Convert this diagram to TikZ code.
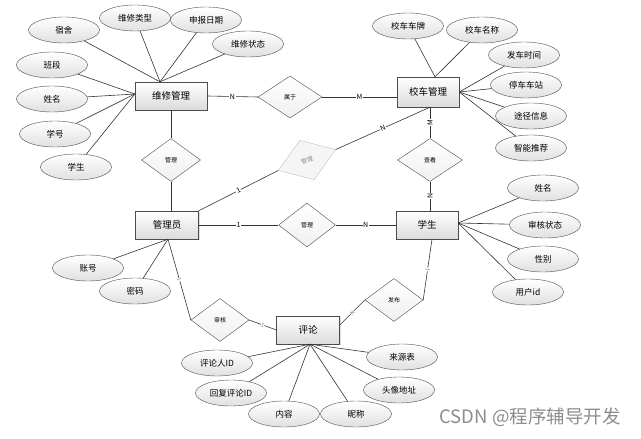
\documentclass[tikz,border=0pt]{standalone}
\usepackage{fontspec}
\setmainfont{Noto Sans CJK SC}
\usetikzlibrary{shapes.geometric,shadows}
\begin{document}
\begin{tikzpicture}[x=1pt,y=-1pt,
  ent/.style={rectangle, draw=black!70, top color=white, bottom color=black!14,
    minimum width=63pt, minimum height=29pt, inner sep=0pt,
    font=\fontsize{9.5}{11}\selectfont,
    drop shadow={opacity=0.25, shadow xshift=1pt, shadow yshift=-1pt}},
  attr/.style={ellipse, draw=black!70, top color=white, bottom color=black!12,
    minimum width=71pt, minimum height=26pt, inner sep=0pt,
    font=\fontsize{8.5}{10}\selectfont},
  rel/.style={diamond, draw=black!70, top color=white, bottom color=black!6,
    minimum width=59pt, minimum height=43pt, inner sep=0pt,
    font=\fontsize{6}{7}\selectfont},
  ghost/.style={diamond, draw=black!25, fill=black!4, text=black!45,
    minimum width=61pt, minimum height=42pt, inner sep=0pt,
    font=\fontsize{6}{7}\selectfont},
  conn/.style={draw=black!80, line width=0.6pt},
  lbl/.style={fill=white, inner sep=0.6pt, font=\fontsize{7}{8}\selectfont},
  tiny/.style={fill=white, inner sep=0.3pt, text=black!60, font=\fontsize{5}{6}\selectfont}
]
\useasboundingbox (0,0) rectangle (641,439);

% entities
\node[ent, minimum width=72pt, minimum height=28pt] (wx) at (171,96) {维修管理};
\node[ent, minimum width=62pt, minimum height=30pt] (xc) at (428,92) {校车管理};
\node[ent, minimum height=28pt] (gly) at (167,225) {管理员};
\node[ent, minimum width=62pt, minimum height=28pt] (xs) at (427,225) {学生};
\node[ent, minimum height=28pt] (pl) at (308,330) {评论};

% relationships
\node[rel, minimum width=64pt, minimum height=42pt] (sy) at (290,97) {属于};
\node[rel] (gl1) at (171,160) {管理};
\node[rel, minimum width=57pt, minimum height=44pt] (gl2) at (307,225) {管理};
\node[rel, minimum width=65pt] (ck) at (430,160) {查看};
\node[rel, minimum width=58pt] (sh) at (220,320) {审核};
\node[rel, minimum width=58pt] (fb) at (394,300) {发布};
\node[ghost, rotate=20] (gd) at (307,160) {管理};

% attributes of 维修管理
\node[attr] (a1) at (64,30) {宿舍};
\node[attr] (a2) at (135,18) {维修类型};
\node[attr] (a3) at (206,20) {申报日期};
\node[attr] (a4) at (248,44) {维修状态};
\node[attr] (a5) at (52,65) {班段};
\node[attr] (a6) at (52,99) {姓名};
\node[attr] (a7) at (55,134) {学号};
\node[attr] (a8) at (76,167) {学生};
\coordinate (wxT) at ([xshift=-11pt]wx.north);
\coordinate (wxL) at ([yshift=2pt]wx.west);
\foreach \a in {a1,a2,a3,a4} \draw[conn] (\a) -- (wxT);
\foreach \a in {a5,a6,a7,a8} \draw[conn] (\a) -- (wxL);

% attributes of 校车管理
\node[attr] (b1) at (408,26) {校车车牌};
\node[attr] (b2) at (482,30) {校车名称};
\node[attr] (b3) at (524,55) {发车时间};
\node[attr] (b4) at (526,85) {停车车站};
\node[attr] (b5) at (531,116) {途径信息};
\node[attr] (b6) at (531,148) {智能推荐};
\coordinate (xcT) at ([xshift=7pt]xc.north);
\coordinate (xcR) at (xc.east);
\foreach \a in {b1,b2} \draw[conn] (\a) -- (xcT);
\foreach \a in {b3,b4,b5,b6} \draw[conn] (\a) -- (xcR);

% attributes of 学生
\node[attr] (c1) at (543,188) {姓名};
\node[attr] (c2) at (545,225) {审核状态};
\node[attr] (c3) at (543,259) {性别};
\node[attr] (c4) at (528,292) {用户id};
\coordinate (xsR) at ([yshift=2pt]xs.east);
\foreach \a in {c1,c2,c3,c4} \draw[conn] (\a) -- (xsR);

% attributes of 管理员
\node[attr] (d1) at (88,268) {账号};
\node[attr] (d2) at (135,291) {密码};
\coordinate (glyB) at ([xshift=1pt]gly.south);
\foreach \a in {d1,d2} \draw[conn] (\a) -- (glyB);

% attributes of 评论
\node[attr] (e1) at (217,363) {评论人ID};
\node[attr] (e2) at (231,393) {回复评论ID};
\node[attr] (e3) at (284,414) {内容};
\node[attr] (e4) at (356,414) {昵称};
\node[attr] (e5) at (399,390) {头像地址};
\node[attr] (e6) at (402,357) {来源表};
\coordinate (plB) at ([xshift=2pt]pl.south);
\foreach \a in {e1,e2,e3,e4,e5,e6} \draw[conn] (\a) -- (plB);

% relationship connectors
\draw[conn] (wx.east) -- node[lbl] {N} (sy.west);
\draw[conn] (sy.east) -- node[lbl] {M} (xc.west |- sy.east);
\draw[conn] (wx.south -| gl1.north) -- (gl1.north);
\draw[conn] (gl1.south) -- (gl1.south |- gly.north);
\draw[conn] (gly.north east) -- node[lbl, sloped] {1} (gd.west);
\draw[conn] (gd.east) -- node[lbl, sloped] {N} (ck.north |- xc.south);
\draw[conn] (ck.north |- xc.south) -- node[lbl, rotate=90] {M} (ck.north);
\draw[conn] (ck.south) -- node[lbl, rotate=90] {N} (ck.south |- xs.north);
\draw[conn] (gly.east) -- node[lbl] {1} (gl2.west);
\draw[conn] (gl2.east) -- node[lbl] {N} (xs.west);
\draw[conn] (glyB) -- node[tiny, sloped] {1} (sh.west);
\draw[conn] (sh.east) -- node[tiny, sloped] {1} (pl.west);
\draw[conn] ([xshift=5pt]xs.south) -- node[tiny, sloped] {1} (fb.east);
\draw[conn] (fb.west) -- node[tiny, sloped] {N} ([yshift=5pt]pl.east);

% watermark
\node[text=black!45, font=\fontsize{18.5}{20}\selectfont] (wm) at (530,417) {CSDN @程序辅导开发};
\end{tikzpicture}
\end{document}
